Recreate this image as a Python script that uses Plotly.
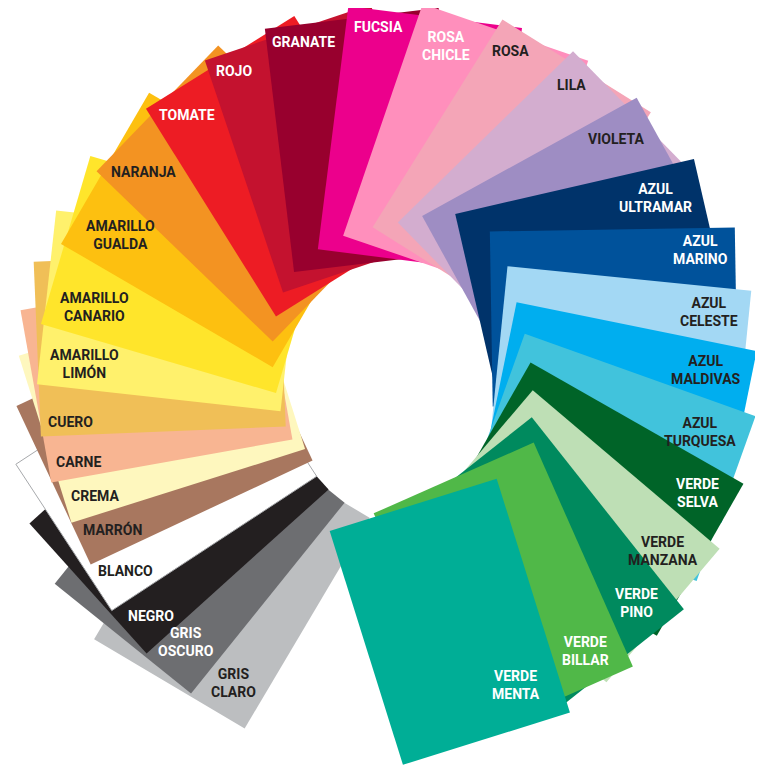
import math
import plotly.graph_objects as go

# ---- data: paper colours, clockwise from the bottom-left (bottom of the stack) ----
names = ["GRIS\nCLARO", "GRIS\nOSCURO", "NEGRO", "BLANCO", "MARRÓN", "CREMA", "CARNE", "CUERO",
         "AMARILLO\nLIMÓN", "AMARILLO\nCANARIO", "AMARILLO\nGUALDA", "NARANJA", "TOMATE", "ROJO",
         "GRANATE", "FUCSIA", "ROSA\nCHICLE", "ROSA", "LILA", "VIOLETA", "AZUL\nULTRAMAR",
         "AZUL\nMARINO", "AZUL\nCELESTE", "AZUL\nMALDIVAS", "AZUL\nTURQUESA", "VERDE\nSELVA",
         "VERDE\nMANZANA", "VERDE\nPINO", "VERDE\nBILLAR", "VERDE\nMENTA"]
fill_colors = ["#BCBEC0", "#6D6E71", "#231F20", "#FFFFFF", "#A8775F", "#FEF7BE", "#F8B592", "#F0BF57",
               "#FFF16C", "#FFE52B", "#FDC010", "#F39322", "#ED1C24", "#C4122F",
               "#98002E", "#EC008C", "#FF8FBC", "#F4A5B7", "#D3ADCF", "#9E8DC3", "#00336A",
               "#00529B", "#A3D8F4", "#00AEEF", "#41C3DC", "#006428",
               "#BEDFB5", "#008A5E", "#50B848", "#00AE96"]
text_colors = ["#231F20", "#FFFFFF", "#FFFFFF", "#231F20", "#231F20", "#231F20", "#231F20", "#231F20",
               "#231F20", "#231F20", "#231F20", "#231F20", "#FFFFFF", "#FFFFFF",
               "#FFFFFF", "#FFFFFF", "#FFFFFF", "#231F20", "#231F20", "#231F20", "#FFFFFF",
               "#FFFFFF", "#231F20", "#231F20", "#231F20", "#FFFFFF",
               "#231F20", "#FFFFFF", "#FFFFFF", "#FFFFFF"]

# ---- layout of the fan (pixels) ----
FIG_W, FIG_H = 763, 765
PAGE_PAD = 8            # the page body margin that offsets the figure
SHEET_W, SHEET_L = 175, 245
CX, CY = 388, 385
N = len(names)


def gauss(i, mu, w):
    return math.exp(-((i - mu) / w) ** 2)


def corner_angle(i):
    # polar angle (screen degrees, clockwise) of each sheet's outer leading corner
    if i <= 9:
        dev = -19 * gauss(i, 9, 5.0)
    else:
        dev = -2.5 - 16.5 * math.exp(-(i - 9) / 5.5)
    dev += 3.5 * gauss(i, 21, 1.7) + 2.5 * gauss(i, 29, 1.2) - 2.0 * gauss(i, 14, 0.8) - 1.0 * gauss(i, 16, 0.8)
    return 113.4 + 10.62 * i + dev


def corner_radius(i, phi):
    p = math.radians(phi)
    return (369 - 9 * math.cos(2 * p) + 9 * math.cos(p) - 4 * math.sin(p)
            + 8 * gauss(i, 21, 1.3) - 10 * gauss(i, 4.5, 1.0) + 4 * gauss(i, 0, 1.0))


def tilt(i):
    return (6 + 8 / (1 + math.exp(-(i - 12.5) / 1.2)) + 10 * gauss(i, 20.5, 2.2)
            + 3.5 * gauss(i, 28, 0.7) - 2.8 * gauss(i, 29, 0.7) + 2.0 * gauss(i, 0, 0.7))


fig = go.Figure()
annotations = []
for i in range(N):
    phi = corner_angle(i)
    r = corner_radius(i, phi)
    qx = CX + r * math.cos(math.radians(phi))
    qy = CY + r * math.sin(math.radians(phi))
    a = math.radians(phi + tilt(i))
    dx, dy = math.cos(a), math.sin(a)          # outward axis of the sheet
    nx, ny = -dy, dx                            # towards the clockwise side
    xs = [qx, qx + SHEET_W * nx, qx + SHEET_W * nx - SHEET_L * dx, qx - SHEET_L * dx, qx]
    ys = [qy, qy + SHEET_W * ny, qy + SHEET_W * ny - SHEET_L * dy, qy - SHEET_L * dy, qy]
    is_white = fill_colors[i].upper() == "#FFFFFF"
    fig.add_trace(go.Scatter(
        x=xs, y=ys, mode="lines", fill="toself", fillcolor=fill_colors[i],
        line=dict(color="#A7A9AC" if is_white else fill_colors[i], width=1 if is_white else 0),
        hoverinfo="skip", showlegend=False))

    lines = names[i].split("\n")
    bw = max(len(s) for s in lines) * 9.0
    bh = 14 + 20 * (len(lines) - 1)
    ha, hb = bw / 2, bh / 2
    supp_d = ha * abs(dx) + hb * abs(dy)
    supp_n = ha * abs(nx) + hb * abs(ny)
    inset = 12 if i == N - 1 else 0            # the top sheet is fully visible
    lx = qx - (7 + inset + supp_d) * dx + (5 + inset + supp_n) * nx
    ly = qy - (7 + inset + supp_d) * dy + (5 + inset + supp_n) * ny
    annotations.append(dict(
        x=lx, y=ly, xref="x", yref="y", text="<br>".join(lines), showarrow=False,
        xanchor="center", yanchor="middle", align="center",
        font=dict(family="Roboto, Arial, sans-serif", size=14, color=text_colors[i], weight="bold")))

fig.update_layout(
    width=FIG_W, height=FIG_H, autosize=False,
    margin=dict(l=0, r=0, t=0, b=0),
    paper_bgcolor="white", plot_bgcolor="white",
    xaxis=dict(range=[PAGE_PAD, FIG_W + PAGE_PAD], visible=False, fixedrange=True),
    yaxis=dict(range=[FIG_H + PAGE_PAD, PAGE_PAD], visible=False, fixedrange=True),
    annotations=annotations,
    showlegend=False,
)
fig.write_html("out.html")
